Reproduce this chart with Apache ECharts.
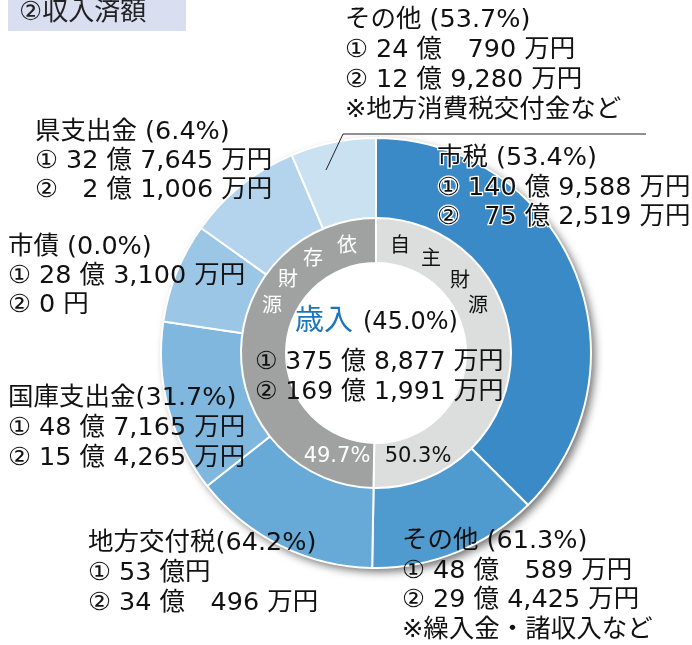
<!DOCTYPE html>
<html>
<head>
<meta charset="utf-8">
<script src="https://cdn.jsdelivr.net/npm/echarts@6/dist/echarts.min.js"></script>
<style>
  html, body { margin: 0; padding: 0; background: #fff; }
  #eCharts { width: 692px; height: 645px; }
</style>
</head>
<body>
<div id="eCharts"></div>
<script>
// 歳入の内訳（① 予算額 / ② 収入済額、単位: 万円）
var names = ['市税', 'その他', '地方交付税', '国庫支出金', '市債', '県支出金', 'その他'];
var budget = [1409588, 480589, 530000, 487165, 283100, 327645, 240790];
var received = [752519, 294425, 340496, 154265, 0, 21006, 129280];
var rates = [53.4, 61.3, 64.2, 31.7, 0.0, 6.4, 53.7];
var notes = ['', '※繰入金・諸収入など', '', '', '', '', '※地方消費税交付金など'];
var groupNames = ['自主財源', '依存財源'];
var groupShare = [50.3, 49.7];
var totalBudget = 3758877;
var totalReceived = 1691991;
var totalRate = 45.0;

var colors = ['#3a8ac8', '#4f9bd0', '#67a9d7', '#80b7df', '#9bc6e6', '#b3d4ec', '#cae1f2'];
var groupColors = ['#dcdddd', '#a0a1a1'];

var FONT = '"DejaVu Sans", "Noto Sans CJK JP", sans-serif';

function fmt(n) {
    return String(n).replace(/\B(?=(\d{3})+(?!\d))/g, ',');
}
// 億の桁を揃える（figure space で左詰め）
function yen(v, width) {
    var oku = Math.floor(v / 10000), man = v % 10000;
    if (v == 0) return '0 円';
    var s = String(oku);
    while (width && s.length < width) s = '\u2007' + s;
    if (man == 0) return s + ' 億円';
    if (man < 1000) return s + ' 億　' + fmt(man) + ' 万円';
    return s + ' 億 ' + fmt(man) + ' 万円';
}

// ラベル配置 [x, y(上端), 行間]
var labelPos = [
    [437, 144, 29.5],
    [402, 527, 29.5],
    [88, 528, 30],
    [8, 383, 30],
    [8, 233, 29],
    [35, 118, 29],
    [345, 5, 30]
];

var labels = names.map(function (n, i) {
    var head = n + (i == 2 || i == 3 ? '' : ' ') + '(' + rates[i].toFixed(1) + '%)';
    var w = String(Math.floor(budget[i] / 10000)).length;
    var lines = [head, '① ' + yen(budget[i]), '② ' + yen(received[i], w)];
    if (notes[i]) lines.push(notes[i]);
    return {
        type: 'text',
        x: labelPos[i][0],
        y: labelPos[i][1],
        scaleX: 1.02,
        z: 10,
        style: {
            text: lines.join('\n'),
            fontSize: 25,
            fontFamily: FONT,
            lineHeight: labelPos[i][2],
            fill: '#111',
            stroke: i == 0 ? '#fff' : null,
            lineWidth: i == 0 ? 2.5 : 0,
            verticalAlign: 'top'
        }
    };
});

function ch(t, x, y, c) {
    return {
        type: 'text', x: x, y: y, z: 10,
        style: { text: t, fontSize: 20, fontFamily: FONT, fill: c, align: 'center', verticalAlign: 'middle' }
    };
}

var graphics = [
    { type: 'rect', shape: { x: 8, y: 0, width: 178, height: 31 }, style: { fill: '#d9dff1' } },
    { type: 'text', x: 19, y: 13, style: { text: '②収入済額', fontSize: 26, fontFamily: FONT, fill: '#222', verticalAlign: 'middle' } },
    { type: 'polyline', z: 10, shape: { points: [[326, 170], [343, 134], [646, 134]] }, style: { stroke: '#222', lineWidth: 1, fill: null } },
    // 中央
    { type: 'text', x: 295, y: 322, z: 10, style: { text: '歳入', fontSize: 29, fontFamily: FONT, fill: '#1c75bc', verticalAlign: 'middle' } },
    { type: 'text', x: 363, y: 323, z: 10, style: { text: '(' + totalRate.toFixed(1) + '%)', fontSize: 24, fontFamily: FONT, fill: '#111', verticalAlign: 'middle' } },
    { type: 'text', x: 255, y: 347, z: 10, style: { text: '① ' + yen(totalBudget) + '\n② ' + yen(totalReceived), fontSize: 25, fontFamily: FONT, lineHeight: 30, fill: '#111', verticalAlign: 'top' } },
    // 内側リング
    ch('依', 347, 247, '#fff'), ch('存', 313, 260, '#fff'), ch('財', 288, 281, '#fff'), ch('源', 272, 307, '#fff'),
    ch('自', 400, 247, '#111'), ch('主', 431, 260, '#111'), ch('財', 460, 282, '#111'), ch('源', 478, 307, '#111'),
    { type: 'text', x: 337, y: 457, z: 10, style: { text: groupShare[1].toFixed(1) + '%', fontSize: 21, fontFamily: FONT, fill: '#fff', align: 'center', verticalAlign: 'middle' } },
    { type: 'text', x: 418, y: 457, z: 10, style: { text: groupShare[0].toFixed(1) + '%', fontSize: 21, fontFamily: FONT, fill: '#111', align: 'center', verticalAlign: 'middle' } }
].concat(labels);

var myChart = echarts.init(document.getElementById('eCharts'));
var center = [376, 353];
option = {
    animation: false,
    series: [
        {
            // 影用
            type: 'pie', silent: true, center: center, radius: [134, 215], z: 1,
            label: { show: false }, labelLine: { show: false },
            itemStyle: { color: '#fff', shadowBlur: 8, shadowOffsetX: 4, shadowOffsetY: 4, shadowColor: 'rgba(0,0,0,0.55)' },
            data: [{ value: 1 }]
        },
        {
            type: 'pie', center: center, radius: [133, 215], startAngle: 90, clockwise: true, z: 2,
            label: { show: false }, labelLine: { show: false },
            itemStyle: { borderColor: '#fff', borderWidth: 2 },
            data: names.map(function (n, i) {
                return { name: n, value: budget[i], itemStyle: { color: colors[i] } };
            })
        },
        {
            type: 'pie', center: center, radius: [90, 135], startAngle: 90, clockwise: true, z: 3,
            label: { show: false }, labelLine: { show: false },
            itemStyle: { borderColor: '#fff', borderWidth: 2 },
            data: groupNames.map(function (n, i) {
                return { name: n, value: groupShare[i], itemStyle: { color: groupColors[i] } };
            })
        }
    ],
    graphic: graphics
};
myChart.setOption(option);
</script>
</body>
</html>
